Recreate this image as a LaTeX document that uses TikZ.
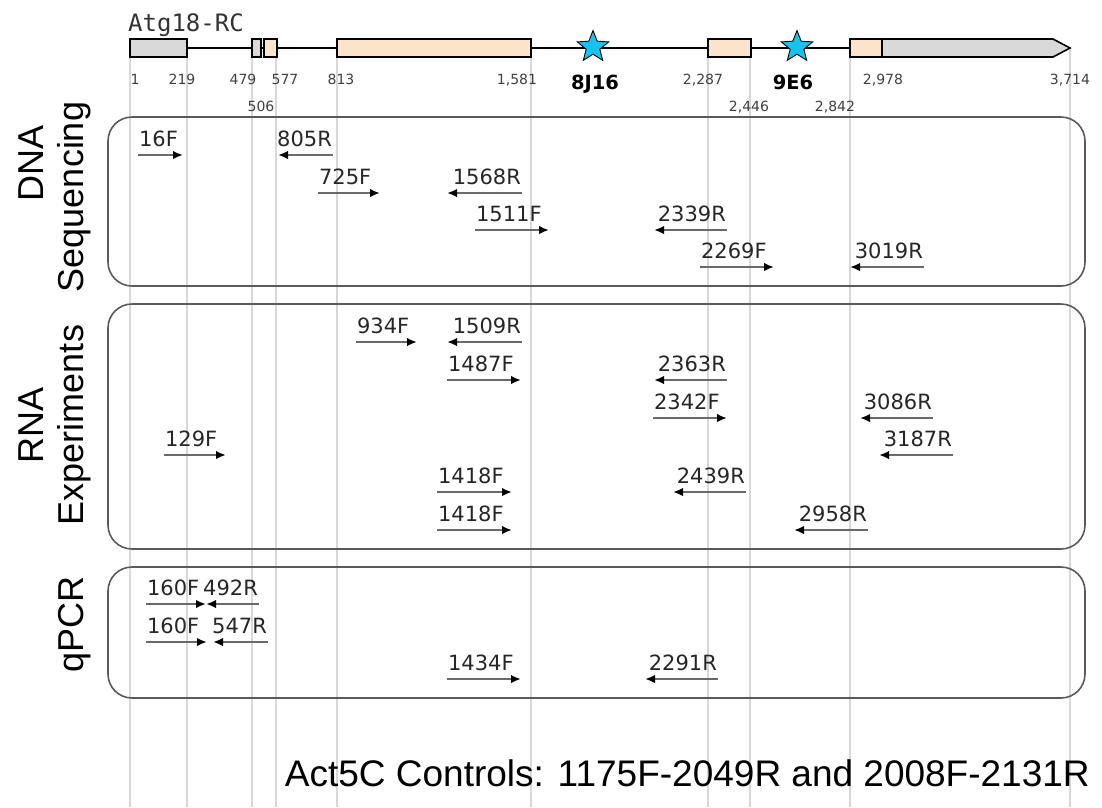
\documentclass[tikz,border=0pt]{standalone}
\usepackage{fontspec}
\setmainfont{DejaVu Sans}
\newfontfamily\arialfont{Liberation Sans}
\newfontfamily\genefont{DejaVu Sans Mono}
\usetikzlibrary{
  arrows.meta,%
  % star shape for the insertion sites
  shapes.geometric,%
  positioning
}
\definecolor{utrgray}{HTML}{D9D9D9}
\definecolor{cdspeach}{HTML}{FCE4CB}
\definecolor{siteblue}{HTML}{17C3EE}
\definecolor{guidegray}{HTML}{D8D8D8}
\definecolor{panelgray}{HTML}{5A5A5A}
\definecolor{primergray}{HTML}{6A6A6A}
\tikzset{>={Latex[length=10pt,width=8.5pt,color=black]}}
\tikzset{
  guide/.style={guidegray, line width=1.4pt},
  exon/.style={draw=black, line width=1.6pt},
  panel/.style={draw=panelgray, line width=1.6pt, rounded corners=24pt},
  primer/.style={->, primergray, line width=2.2pt},
  fwdlbl/.style={anchor=base west, inner sep=0pt, yshift=9pt, text=black!85,
    font=\fontsize{21}{24}\selectfont},
  revlbl/.style={anchor=base east, inner sep=0pt, yshift=9pt, text=black!85,
    font=\fontsize{21}{24}\selectfont},
  ticklbl/.style={anchor=base, inner sep=0pt, text=black!75,
    font=\fontsize{14}{16}\selectfont},
  sitelbl/.style={anchor=base, inner sep=0pt, font=\bfseries\fontsize{19.5}{22}\selectfont},
  assay/.style={rotate=90, anchor=base, inner sep=0pt,
    font=\arialfont\fontsize{36}{40}\selectfont},
  insert/.style={star, star points=5, star point ratio=2.3, draw=black,
    fill=siteblue, line width=0.9pt, minimum size=33pt, inner sep=0pt}
}

\begin{document}
\begin{tikzpicture}[x=1pt, y=-1pt]
  \useasboundingbox (0,0) rectangle (1102,807);

  % guide lines at the exon borders
  \foreach \x in {130,187,252,276,337,531,708,750,850,1070}
    \draw[guide] (\x,48) -- (\x,807);

  % gene model
  \node[anchor=base west, inner sep=0pt, text=black!80,
    font=\genefont\fontsize{24}{28}\selectfont] (gene) at (128,31) {Atg18-RC};
  \draw[line width=1.4pt] (187,48) -- (1053,48);
  \draw[exon, fill=utrgray] (130,39) rectangle (187,57);
  \draw[exon, fill=utrgray] (252,39) rectangle (261,57);
  \draw[exon, fill=cdspeach] (264,39) rectangle (277,57);
  \draw[exon, fill=cdspeach] (337,39) rectangle (531,57);
  \draw[exon, fill=cdspeach] (708,39) rectangle (751,57);
  \draw[exon, fill=cdspeach] (850,39) rectangle (882,57);
  \draw[exon, fill=utrgray] (882,39) -- (1053,39) -- (1070,48) -- (1053,57) -- (882,57) -- cycle;
  \node[insert] (site8J16) at (593,47) {};
  \node[insert] (site9E6) at (797,47) {};
  \node[sitelbl] (lbl8J16) at (595,89) {8J16};
  \node[sitelbl] (lbl9E6) at (793,89) {9E6};

  % coordinates along the gene
  \foreach \x/\t [count=\i] in {135/1, 182/219, 243/479, 285/577, 341/813,
      517/{1,581}, 703/{2,287}, 883/{2,978}, 1070/{3,714}}
    \node[ticklbl] (tick\i) at (\x,84) {\t};
  \foreach \x/\t [count=\i] in {261/506, 749/{2,446}, 835/{2,842}}
    \node[ticklbl] (ticklow\i) at (\x,111) {\t};

  % assay panels
  \draw[panel] (108,117) rectangle (1085,286);
  \draw[panel] (108,304) rectangle (1085,549);
  \draw[panel] (108,567) rectangle (1085,698);
  \node[assay] (dna) at (43,163) {DNA};
  \node[assay] (seq) at (83,197) {Sequencing};
  \node[assay] (rna) at (43,425) {RNA};
  \node[assay] (exper) at (83,425) {Experiments};
  \node[assay] (qpcr) at (83,624) {qPCR};

  % forward primers
  \foreach \p/\xa/\xb/\yy [count=\i] in {16F/138/183/155, 725F/318/380/193,
      1511F/475/549/230, 2269F/700/774/267, 934F/356/417/342, 1487F/447/521/380,
      2342F/653/727/418, 129F/164/226/455, 1418F/437/512/492, 1418F/437/512/530,
      160F/146/206/604, 160F/146/207/642, 1434F/447/521/679}{
    \coordinate (fwd\i a) at (\xa,\yy);
    \coordinate (fwd\i b) at (\xb,\yy);
    \draw[primer] (fwd\i a) -- (fwd\i b) node[pos=0, fwdlbl] (fwdlbl\i) {\p};
  }

  % reverse primers
  \foreach \p/\xa/\xb/\yy [count=\i] in {805R/333/278/155, 1568R/522/447/193,
      2339R/727/654/230, 3019R/924/850/267, 1509R/522/447/342, 2363R/727/654/380,
      3086R/933/860/418, 3187R/953/879/455, 2439R/746/673/492, 2958R/868/794/530,
      492R/259/206/604, 547R/268/213/642, 2291R/718/645/679}{
    \coordinate (rev\i a) at (\xa,\yy);
    \coordinate (rev\i b) at (\xb,\yy);
    \draw[primer] (rev\i a) -- (rev\i b) node[pos=0, revlbl] (revlbl\i) {\p};
  }

  \node[anchor=base east, inner sep=0pt, font=\arialfont\fontsize{37}{44}\selectfont]
    (controls) at (1090,786) {Act5C Controls: 1175F-2049R and 2008F-2131R};
\end{tikzpicture}
\end{document}
